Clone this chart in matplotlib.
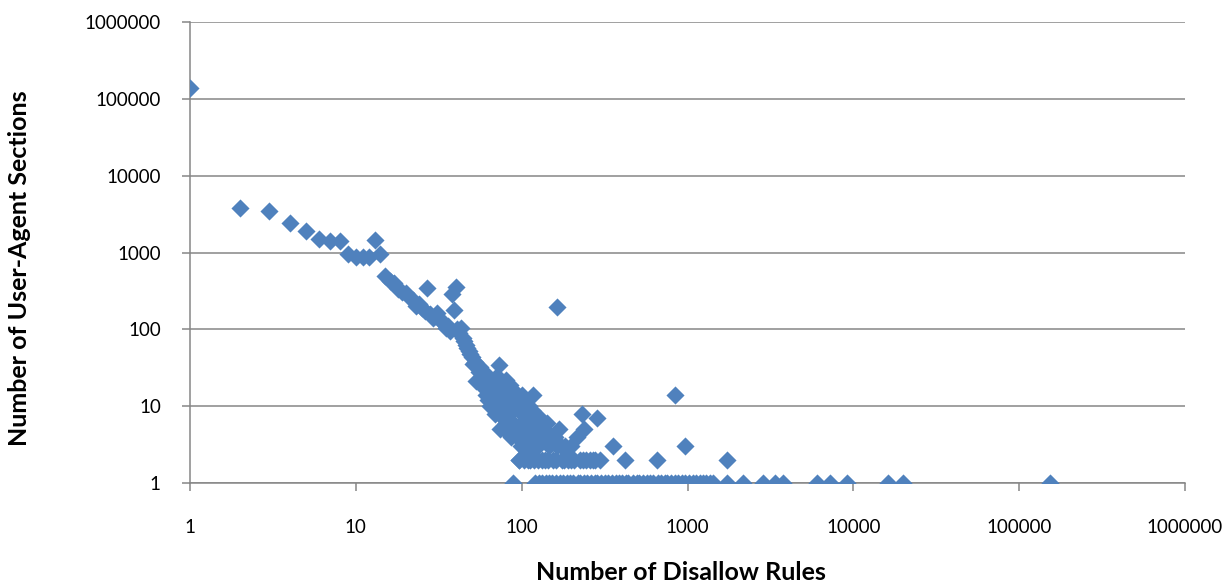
import matplotlib
matplotlib.use("Agg")
import matplotlib.pyplot as plt
from matplotlib.ticker import FixedLocator, NullLocator

plt.rcParams['font.family'] = ['Lato', 'DejaVu Sans']

# few rules, many sections
head_rules = [1, 2, 3, 4, 5, 6, 7, 8, 9, 10, 11, 12, 13, 14]
head_sections = [138000, 3800, 3500, 2450, 1900, 1500, 1400, 1400, 950, 880, 880, 880, 1450, 950]

# the dense falling band
mid_rules = [15, 16, 17, 18, 19, 20, 21, 22, 23, 24, 25, 26, 27, 28, 29, 30,
             31, 32, 33, 34, 35, 36, 37, 38, 39, 40, 41, 42, 43, 44, 45, 46,
             47, 48, 49, 50, 51, 52, 53, 54, 55, 56, 57, 58, 59, 60, 61, 62,
             63, 64, 65, 66, 67, 68, 69, 70, 71, 72, 73, 74, 75, 76, 77, 78,
             79, 80, 81, 82, 83, 84, 85, 86, 87, 88, 89, 90, 92, 94, 95, 96,
             98, 99, 100, 101, 102, 103, 105, 106, 107, 108, 110, 111, 113, 114,
             115, 116, 117, 119, 120, 121, 123, 124, 126, 129, 131, 134, 137,
             142, 146, 150, 158, 163, 164, 167, 173, 183, 198, 215, 231, 236,
             285, 356, 842, 968]
mid_sections = [490, 420, 400, 330, 310, 300, 265, 240, 200, 215, 190, 175, 340, 160, 140, 150,
                165, 135, 125, 118, 105, 112, 95, 290, 180, 360, 100, 90, 105, 78, 70, 62,
                58, 52, 48, 44, 35, 38, 21, 33, 28, 32, 20, 24, 17, 27, 14, 22,
                12, 10, 20, 15, 10, 18, 8, 13, 25, 16, 34, 5, 11, 20, 7, 5,
                14, 22, 6, 9, 12, 8, 19, 4, 16, 13, 6, 10, 15, 4, 9, 12,
                5, 3, 6, 14, 11, 4, 8, 10, 3, 5, 6, 10, 7, 6,
                3, 9, 14, 5, 4, 3, 6, 5, 3, 7, 4, 4, 5,
                6, 3, 4, 4, 3, 196, 5, 3, 3, 3, 4, 8, 5,
                7, 3, 14, 3]

# long tail with two sections
twos_rules = [96, 97, 104, 109, 112, 118, 125, 132, 138, 145, 154, 162, 175, 181,
              190, 199, 206, 224, 233, 246, 257, 268, 277, 297, 420, 656, 1740]

# long tail with a single section
ones_rules = [89, 120, 127, 133, 141, 146, 153, 160, 171, 177, 188, 195, 204, 218,
              225, 239, 248, 261, 277, 286, 300, 320, 331, 349, 372, 384, 400, 428,
              440, 466, 494, 512, 540, 570, 598, 622, 660, 688, 730, 755, 800, 836,
              875, 930, 965, 1024, 1080, 1120, 1190, 1240, 1300, 1370, 1430, 1733,
              2165, 2860, 3375, 3775, 6050, 7240, 9180, 16270, 19950, 154000]

decades = [1, 10, 100, 1000, 10000, 100000, 1000000]

rules = head_rules + mid_rules + twos_rules + ones_rules
sections = head_sections + mid_sections + [2] * len(twos_rules) + [1] * len(ones_rules)

fig = plt.figure(figsize=(12.27, 5.84), dpi=100)
ax = fig.add_axes([190 / 1227, 1 - 483 / 584, 995 / 1227, 461 / 584])

ax.scatter(rules, sections, marker='D', s=85, color='#4F81BD', linewidths=0, zorder=3)

ax.set_xscale('log')
ax.set_yscale('log')
ax.set_xlim(1, 1000000)
ax.set_ylim(1, 1000000)

grid_col = '#868686'
ax.xaxis.set_major_locator(FixedLocator(decades))
ax.yaxis.set_major_locator(FixedLocator(decades))
ax.xaxis.set_minor_locator(NullLocator())
ax.yaxis.set_minor_locator(NullLocator())
ax.set_xticklabels([str(d) for d in decades])
ax.set_yticklabels([str(d) for d in decades])
ax.tick_params(axis='both', colors=grid_col, labelcolor='black', labelsize=13.5,
               length=6, width=1.1)
ax.tick_params(axis='x', pad=20)
ax.tick_params(axis='y', pad=15)

ax.grid(True, axis='y', color=grid_col, linewidth=1.1, zorder=0)
for side in ['top', 'right']:
    ax.spines[side].set_visible(False)
for side in ['left', 'bottom']:
    ax.spines[side].set_color(grid_col)
    ax.spines[side].set_linewidth(1.1)

fig.text(681 / 1227, 1 - 572 / 584, 'Number of Disallow Rules', ha='center', va='center',
         fontsize=18, fontweight='bold')
fig.text(20 / 1227, 1 - 268 / 584, 'Number of User-Agent Sections', ha='center', va='center',
         rotation=90, fontsize=18, fontweight='bold')

fig.savefig('out.png', dpi=100)
